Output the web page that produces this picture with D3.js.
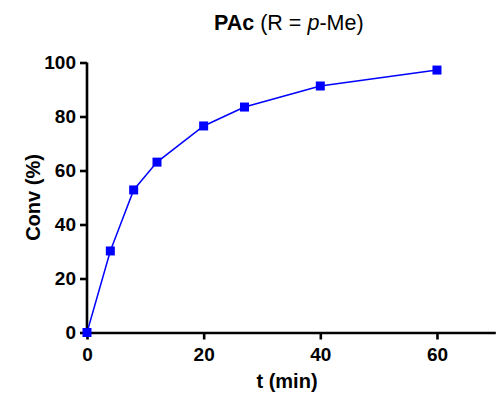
<!DOCTYPE html>
<html><head><meta charset="utf-8">
<script src="https://cdn.jsdelivr.net/npm/d3@7"></script>
<style>body{margin:0;background:#fff}svg{display:block}text{font-family:"Liberation Sans",Arial,sans-serif}</style>
</head><body>
<svg id="c" width="497" height="396"></svg>
<script>
const time = [0, 4, 8, 12, 20, 27, 40, 60];
const conv = [0, 30.2, 52.8, 63.1, 76.5, 83.5, 91.3, 97.2];
const xTicks = [0, 20, 40, 60];
const yTicks = [0, 20, 40, 60, 80, 100];

const svg = d3.select("#c");
const x = d3.scaleLinear().domain([0, 70]).range([87, 495.3]);
const y = d3.scaleLinear().domain([0, 100]).range([332.5, 62.5]);

const xa = svg.append("g").attr("transform", "translate(0,332.5)")
  .call(d3.axisBottom(x).tickValues(xTicks).tickSize(7).tickPadding(8.5).tickSizeOuter(0));
const ya = svg.append("g").attr("transform", "translate(87,0)")
  .call(d3.axisLeft(y).tickValues(yTicks).tickSize(7).tickPadding(4).tickSizeOuter(0));
[xa, ya].forEach(a => {
  a.attr("font-size", null).attr("font-family", null);
  a.selectAll(".domain").attr("stroke", "#000").attr("stroke-width", 2.6);
  a.selectAll(".tick line").attr("stroke", "#000").attr("stroke-width", 2.6);
  a.selectAll(".tick text").attr("fill", "#000").style("font-size", "19px").style("font-weight", "bold");
});
ya.select(".domain").attr("d", `M0,${y(0)+1.3}V${y(100)}`);
ya.selectAll(".tick text").attr("dy", "0.3em");

const line = d3.line().x((d, i) => x(time[i])).y(d => y(d));
svg.append("path").datum(conv).attr("d", line).attr("fill", "none")
  .attr("stroke", "#0000ff").attr("stroke-width", 1.5);
svg.selectAll("rect.pt").data(conv).join("rect").attr("class", "pt")
  .attr("x", (d, i) => x(time[i]) - 4.5).attr("y", d => y(d) - 4.5)
  .attr("width", 9).attr("height", 9).attr("fill", "#0000ff");

const t = svg.append("text").attr("x", 214).attr("y", 30).attr("text-anchor", "start")
  .style("font-size", "21.5px").attr("fill", "#000");
t.append("tspan").attr("font-weight", "bold").text("PAc");
t.append("tspan").text(" (R = ");
t.append("tspan").attr("font-style", "italic").text("p");
t.append("tspan").text("-Me)");

svg.append("text").attr("x", 287).attr("y", 387.5).attr("text-anchor", "middle")
  .style("font-size", "20px").attr("font-weight", "bold").text("t (min)");
svg.append("text").attr("transform", "translate(40,197.5) rotate(-90)").attr("text-anchor", "middle")
  .style("font-size", "20px").attr("font-weight", "bold").text("Conv (%)");
</script>
</body></html>
